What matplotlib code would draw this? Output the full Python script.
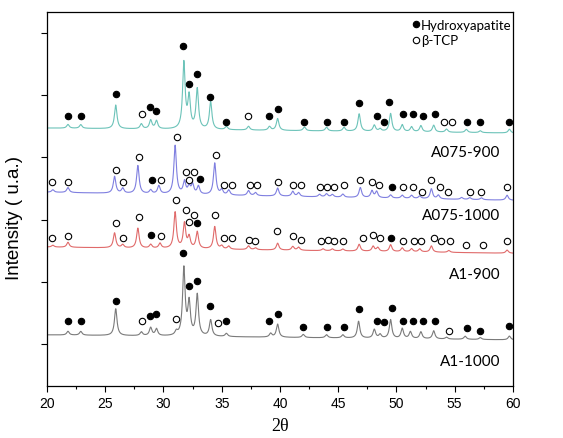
import numpy as np
import matplotlib
matplotlib.use('Agg')
import matplotlib.pyplot as plt
from matplotlib.lines import Line2D

# diffraction angle grid
two_theta = np.linspace(20, 60, 4001)

# peak positions (deg) and heights for each sample
a075_900_pos = [21.8, 22.9, 25.9, 28.1, 28.9, 29.4, 31.75, 32.2, 32.9, 34.05, 35.4, 37.3,
                39.1, 39.8, 42.1, 44.0, 45.5, 46.8, 48.1, 48.6, 49.5, 50.5, 51.3, 52.1,
                53.2, 54.3, 56.0, 57.2, 59.7]
a075_900_h = [6, 6, 38, 8, 14, 13, 106, 50, 64, 44, 5, 6,
              6, 19, 6, 6, 6, 28, 10, 4, 29, 11, 8, 10,
              11, 5, 5, 3, 6]
a075_900_bg = (347, 339)

a075_1000_pos = [20.5, 21.8, 25.8, 26.5, 27.8, 28.9, 29.6, 31.0, 31.8, 32.2, 32.5, 33.0,
                 34.4, 35.0, 35.6, 37.3, 37.9, 39.8, 41.1, 41.6, 43.4, 44.0, 44.5, 45.4,
                 46.9, 47.9, 48.3, 49.5, 50.5, 51.3, 52.0, 53.0, 53.6, 55.6, 56.3, 57.3, 59.5]
a075_1000_h = [4, 8, 27, 8, 45, 6, 13, 78, 20, 12, 15, 13,
               51, 8, 8, 8, 5, 13, 8, 6, 4, 5, 4, 5,
               16, 11, 10, 5, 5, 5, 4, 16, 6, 3, 3, 3, 8]
a075_1000_bg = (244, 231)

a1_900_pos = [20.5, 21.8, 25.8, 26.5, 27.8, 28.9, 29.7, 31.0, 31.8, 32.2, 32.9, 34.4,
              35.0, 35.6, 37.3, 37.9, 39.8, 41.1, 41.6, 43.7, 44.5, 45.4, 46.8, 48.0,
              48.4, 49.5, 50.5, 51.3, 52.0, 53.0, 54.5, 59.5]
a1_900_h = [3, 8, 24, 5, 32, 6, 8, 58, 40, 18, 27, 36,
            5, 5, 6, 3, 11, 6, 5, 3, 3, 3, 11, 8,
            6, 11, 6, 5, 5, 10, 3, 5]
a1_900_bg = (156, 146)

a1_1000_pos = [21.8, 22.9, 25.9, 28.1, 28.9, 29.4, 31.1, 31.75, 32.2, 32.9, 34.05, 35.4,
               39.2, 39.8, 42.0, 44.0, 45.4, 46.75, 48.1, 48.6, 49.5, 50.5, 51.2, 52.1,
               53.2, 54.3, 55.9, 57.2, 59.7]
a1_1000_h = [6, 6, 43, 6, 13, 11, 6, 108, 52, 66, 26, 5,
             6, 21, 5, 5, 5, 27, 14, 6, 30, 16, 11, 11,
             13, 3, 5, 3, 6]
a1_1000_bg = (15, 7)

# phase markers: (2theta, height) for hydroxyapatite (HA) and beta-TCP
a075_900_ha_x = [21.8, 22.9, 25.9, 28.8, 29.4, 31.7, 32.2, 32.9, 34.0, 35.4, 39.1, 39.8, 42.1,
                 44.0, 45.5, 46.8, 48.3, 48.9, 49.4, 50.6, 51.4, 52.3, 53.3, 56.1, 57.2, 59.7]
a075_900_ha_y = [367, 367, 401, 380, 375, 478, 417, 434, 397, 357, 367, 377, 357,
                 357, 357, 388, 367, 357, 389, 369, 369, 367, 369, 356, 356, 356]
a075_900_tcp_x = [28.15, 37.25, 54.1, 54.8]
a075_900_tcp_y = [369, 367, 356, 356]

a075_1000_ha_x = [29.0, 33.1, 49.6]
a075_1000_ha_y = [263, 266, 253]
a075_1000_tcp_x = [20.45, 21.8, 25.9, 26.5, 27.9, 29.75, 31.2, 31.9, 32.6, 32.2, 34.5, 35.2,
                   35.9, 37.4, 38.05, 39.8, 41.1, 41.8, 43.4, 44.0, 44.6, 45.5, 46.9, 47.9,
                   48.5, 50.6, 51.4, 52.2, 52.95, 53.7, 54.4, 56.3, 57.3, 59.5]
a075_1000_tcp_y = [261, 261, 279, 261, 300, 263, 332, 277, 277, 264, 303, 256,
                   256, 255, 255, 260, 256, 255, 253, 253, 253, 255, 264, 260,
                   256, 253, 253, 245, 264, 253, 245, 245, 245, 253]

a1_900_ha_x = [28.95, 32.9, 49.55]
a1_900_ha_y = [175, 194, 171]
a1_900_tcp_x = [20.45, 21.8, 25.9, 26.5, 27.9, 29.75, 31.1, 31.9, 32.6, 32.2, 34.45, 35.2,
                35.85, 37.3, 37.9, 39.75, 41.1, 41.8, 43.5, 44.1, 44.6, 45.4, 47.1, 47.95,
                48.55, 50.6, 51.5, 52.1, 53.2, 53.8, 54.6, 56.0, 57.4, 59.5]
a1_900_tcp_y = [171, 173, 194, 171, 204, 173, 231, 215, 207, 196, 207, 171,
                171, 168, 165, 181, 173, 168, 165, 168, 165, 165, 171, 175,
                171, 165, 165, 165, 171, 165, 165, 159, 159, 165]

a1_1000_ha_x = [21.8, 22.9, 25.9, 28.8, 29.4, 31.7, 32.2, 32.9, 34.0, 35.4, 39.1, 39.8, 42.0,
                44.0, 45.5, 46.8, 48.3, 48.9, 49.6, 50.6, 51.4, 52.3, 53.3, 56.1, 57.2, 59.7]
a1_1000_ha_y = [38, 38, 69, 46, 48, 146, 93, 101, 61, 38, 38, 48, 27,
                27, 27, 56, 38, 35, 58, 37, 38, 38, 37, 26, 21, 29]
a1_1000_tcp_x = [28.15, 31.05, 34.7, 54.5]
a1_1000_tcp_y = [38, 40, 34, 22]

sample_names = ['A075-900', 'A075-1000', 'A1-900', 'A1-1000']
label_y = [309, 208, 112, -27]
line_colors = ['#6cc3b9', '#7f7fe0', '#e06a6a', '#7a7a7a']


def pattern(pos, heights, bg, hwhm=0.13):
    y = np.linspace(bg[0], bg[1], two_theta.size)
    for p, h in zip(pos, heights):
        y = y + h / (1 + ((two_theta - p) / hwhm) ** 2)
    return y


patterns = [
    pattern(a075_900_pos, a075_900_h, a075_900_bg),
    pattern(a075_1000_pos, a075_1000_h, a075_1000_bg),
    pattern(a1_900_pos, a1_900_h, a1_900_bg),
    pattern(a1_1000_pos, a1_1000_h, a1_1000_bg),
]
markers = [
    (a075_900_ha_x, a075_900_ha_y, a075_900_tcp_x, a075_900_tcp_y),
    (a075_1000_ha_x, a075_1000_ha_y, a075_1000_tcp_x, a075_1000_tcp_y),
    (a1_900_ha_x, a1_900_ha_y, a1_900_tcp_x, a1_900_tcp_y),
    (a1_1000_ha_x, a1_1000_ha_y, a1_1000_tcp_x, a1_1000_tcp_y),
]

fig = plt.figure(figsize=(5.63, 4.39), dpi=100)
ax = fig.add_axes([0.0835, 0.1185, 0.8275, 0.8515])

for y, color, name, ly, mk in zip(patterns, line_colors, sample_names, label_y, markers):
    ax.plot(two_theta, y, color=color, lw=0.8)
    ha_x, ha_y, tcp_x, tcp_y = mk
    ax.plot(ha_x, ha_y, 'o', ms=4.6, color='black', mec='black', mew=0.8, ls='none')
    ax.plot(tcp_x, tcp_y, 'o', ms=4.6, mfc='white', mec='black', mew=0.8, ls='none')
    ax.text(58.9, ly, name, ha='right', va='center', fontsize=11,
            family=['Lato', 'DejaVu Sans'])

handles = [
    Line2D([], [], marker='o', ls='none', ms=4.6, color='black', mew=0.8),
    Line2D([], [], marker='o', ls='none', ms=4.6, mfc='white', mec='black', mew=0.8),
]
ax.legend(handles, ['Hydroxyapatite', 'β-TCP'], loc='upper right',
          bbox_to_anchor=(1.0, 0.985), frameon=False, handlelength=0.4,
          handletextpad=0.2, borderpad=0, borderaxespad=0.1, labelspacing=0.25,
          prop={'family': ['Lato', 'DejaVu Sans'], 'size': 9.5})

ax.set_xlim(20, 60)
ax.set_ylim(-67, 533)
ax.set_xticks(np.arange(20, 61, 5))
ax.set_xticks(np.arange(22.5, 60, 5), minor=True)
ax.set_yticks(np.arange(0, 501, 100))
ax.set_yticklabels([])
ax.tick_params(axis='both', which='major', direction='out', length=4, width=0.8,
               labelsize=10)
ax.tick_params(axis='x', which='minor', direction='out', length=2.5, width=0.8)
for lab in ax.get_xticklabels():
    lab.set_family('Liberation Sans')
for s in ax.spines.values():
    s.set_linewidth(0.9)

ax.set_xlabel('2θ', fontsize=13, family='Liberation Serif')
ax.set_ylabel('Intensity ( u.a.)', fontsize=13.5, family='Liberation Sans')
ax.xaxis.set_label_coords(0.5, -0.082)
ax.yaxis.set_label_coords(-0.052, 0.452)

plt.savefig('out.png', dpi=100)
